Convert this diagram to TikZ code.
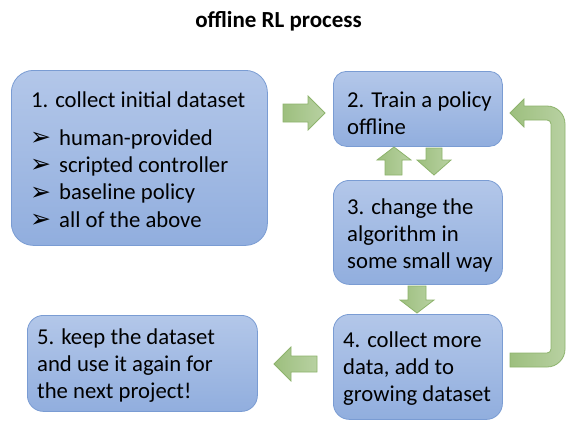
\documentclass[tikz,border=0pt]{standalone}
\usepackage{fontspec}
\setmainfont{Carlito}
\newfontfamily\dejavu{DejaVu Sans}
\definecolor{boxtop}{RGB}{179,199,233}
\definecolor{boxbot}{RGB}{145,174,222}
\definecolor{boxline}{RGB}{122,156,211}
\definecolor{arrl}{RGB}{157,191,126}
\definecolor{arrr}{RGB}{184,209,162}
\definecolor{arrline}{RGB}{141,179,108}
\newcommand{\bul}{\makebox[28pt][l]{\hspace{-1pt}\raisebox{-0.5pt}{\dejavu\bfseries\fontsize{25}{25}\selectfont ➢}}}
\tikzset{
  stepbox/.style={draw=boxline, line width=0.8pt, top color=boxtop, bottom color=boxbot, inner sep=0pt, anchor=north west},
  boxtext/.style={anchor=north west, inner sep=0pt, align=left, font=\fontsize{22.7}{27.4}\selectfont},
  blockarrow/.style={draw=arrline, line width=0.8pt, left color=arrl, right color=arrr, line join=miter},
}
\begin{document}
\begin{tikzpicture}[x=1pt,y=-1pt]
\useasboundingbox (0,0) rectangle (585,437);
% title
\node[anchor=base, inner sep=0pt, font=\fontsize{23}{26}\selectfont\bfseries] (title) at (278.5,27.5) {offline RL process};
% boxes
\node[stepbox, rounded corners=22pt, minimum width=256pt, minimum height=175pt] (b1) at (11,70) {};
\node[stepbox, rounded corners=13pt, minimum width=169pt, minimum height=75pt] (b2) at (333,71) {};
\node[stepbox, rounded corners=16pt, minimum width=169pt, minimum height=104pt] (b3) at (333,180) {};
\node[stepbox, rounded corners=16pt, minimum width=169pt, minimum height=105pt] (b4) at (333,314) {};
\node[stepbox, rounded corners=16pt, minimum width=230pt, minimum height=96pt] (b5) at (27,315) {};
% texts (north = first baseline - 0.7*27.4)
\node[boxtext] (t1) at (31,87.8) {\strut 1. collect initial dataset\\[10.5pt]
  \bul human-provided\\ \bul scripted controller\\ \bul baseline policy\\ \bul all of the above};
\node[boxtext] (t2) at (347,87.8) {\strut 2. Train a policy\\offline};
\node[boxtext] (t3) at (347,194.8) {\strut 3. change the\\algorithm in\\some small way};
\node[boxtext] (t4) at (343,327.8) {\strut 4. collect more\\data, add to\\growing dataset};
\node[boxtext] (t5) at (37,324.8) {\strut 5. keep the dataset\\and use it again for\\the next project!};
% block arrows
\path[blockarrow] (283,104) -- (308,104) -- (308,96) -- (325,113) -- (308,130) -- (308,122) -- (283,122) -- cycle;
\path[blockarrow] (385,175) -- (385,160) -- (377,160) -- (394,147) -- (411,160) -- (402,160) -- (402,175) -- cycle;
\path[blockarrow] (426,148) -- (442,148) -- (442,160) -- (451,160) -- (434,175) -- (417,160) -- (426,160) -- cycle;
\path[blockarrow] (408,286) -- (426,286) -- (426,300) -- (434,300) -- (417,313) -- (400,300) -- (408,300) -- cycle;
\path[blockarrow] (317,356) -- (291,356) -- (291,347) -- (274,364) -- (291,381) -- (291,372) -- (317,372) -- cycle;
% bent feedback arrow
\path[blockarrow] (510,353) -- (547,353) arc[start angle=90,end angle=0,radius=4]
  -- (551,124) arc[start angle=0,end angle=-90,radius=4]
  -- (524,120) -- (524,127) -- (510,113) -- (524,99) -- (524,106)
  -- (547,106) arc[start angle=-90,end angle=0,radius=18]
  -- (565,349) arc[start angle=0,end angle=90,radius=18]
  -- (510,367) -- cycle;
\end{tikzpicture}
\end{document}
